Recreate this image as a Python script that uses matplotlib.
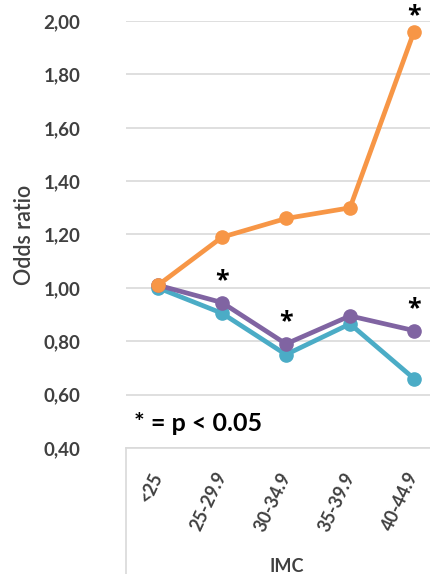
import matplotlib.pyplot as plt
from matplotlib.ticker import FuncFormatter

plt.rcParams['font.family'] = ['Lato', 'DejaVu Sans']

# data
categories = ['<25', '25-29.9', '30-34.9', '35-39.9', '40-44.9']
orange_vals = [1.01, 1.19, 1.26, 1.30, 1.96]
teal_vals = [1.00, 0.905, 0.75, 0.865, 0.66]
purple_vals = [1.01, 0.945, 0.79, 0.895, 0.84]

# significance marks: category index per series
sig_orange = [4]
sig_purple = [1, 2, 4]

fig = plt.figure(figsize=(4.31, 5.74), dpi=100)
W, H = 431, 574
ax = fig.add_axes([126 / W, (H - 448) / H, 320 / W, 427 / H])

x = list(range(len(categories)))
grid_col = '#D9D9D9'
text_col = '#404040'

ax.plot(x, teal_vals, color='#4BACC6', lw=3.4, marker='o', ms=9.5, zorder=3)
ax.plot(x, purple_vals, color='#8064A2', lw=3.4, marker='o', ms=9.5, zorder=4)
ax.plot(x, orange_vals, color='#F79646', lw=3.4, marker='o', ms=9.5, zorder=5)

star_font = ['Open Sans', 'DejaVu Sans']
for i in sig_orange:
    ax.text(x[i], orange_vals[i] + 0.058, '*', ha='center', va='center',
            fontsize=18, fontweight='bold', color='black', family=star_font)
for i in sig_purple:
    ax.text(x[i], purple_vals[i] + 0.083, '*', ha='center', va='center',
            fontsize=18, fontweight='bold', color='black', family=star_font)

ax.text(-0.38, 0.49, '* = p < 0.05', fontsize=18,
        fontweight='bold', color='black', ha='left', va='center')

ax.set_xlim(-0.5, 4.5)
ax.set_ylim(0.40, 2.00)
ax.set_yticks([0.4 + 0.2 * k for k in range(9)])
ax.yaxis.set_major_formatter(FuncFormatter(lambda v, p: f'{v:.2f}'.replace('.', ',')))
ax.yaxis.grid(True, color=grid_col, lw=1.2)
ax.set_axisbelow(True)

for s in ['top', 'right', 'left']:
    ax.spines[s].set_visible(False)
ax.spines['bottom'].set_color(grid_col)
ax.spines['bottom'].set_linewidth(1.2)

ax.tick_params(axis='y', length=0, pad=33, labelsize=13.5, labelcolor=text_col)
for lbl in ax.get_yticklabels():
    lbl.set_fontweight('bold')

ax.set_xticks(x)
ax.set_xticklabels(categories, rotation=65, rotation_mode='anchor',
                   ha='right', va='center', fontsize=13, fontweight='bold',
                   color=text_col)
ax.tick_params(axis='x', length=0, pad=18)

# vertical line below the category axis on the left side
ax.plot([0, 0], [0, -0.3], transform=ax.transAxes, color=grid_col, lw=1.2,
        clip_on=False)

ax.set_ylabel('Odds ratio', fontsize=15.5, fontweight='semibold', color=text_col)
ax.yaxis.set_label_coords(-0.285, 0.5)
fig.text(287 / W, 1 - 566 / H, 'IMC', ha='center', va='center', fontsize=13,
         fontweight='bold', color=text_col)

fig.savefig('out.png', dpi=100)
